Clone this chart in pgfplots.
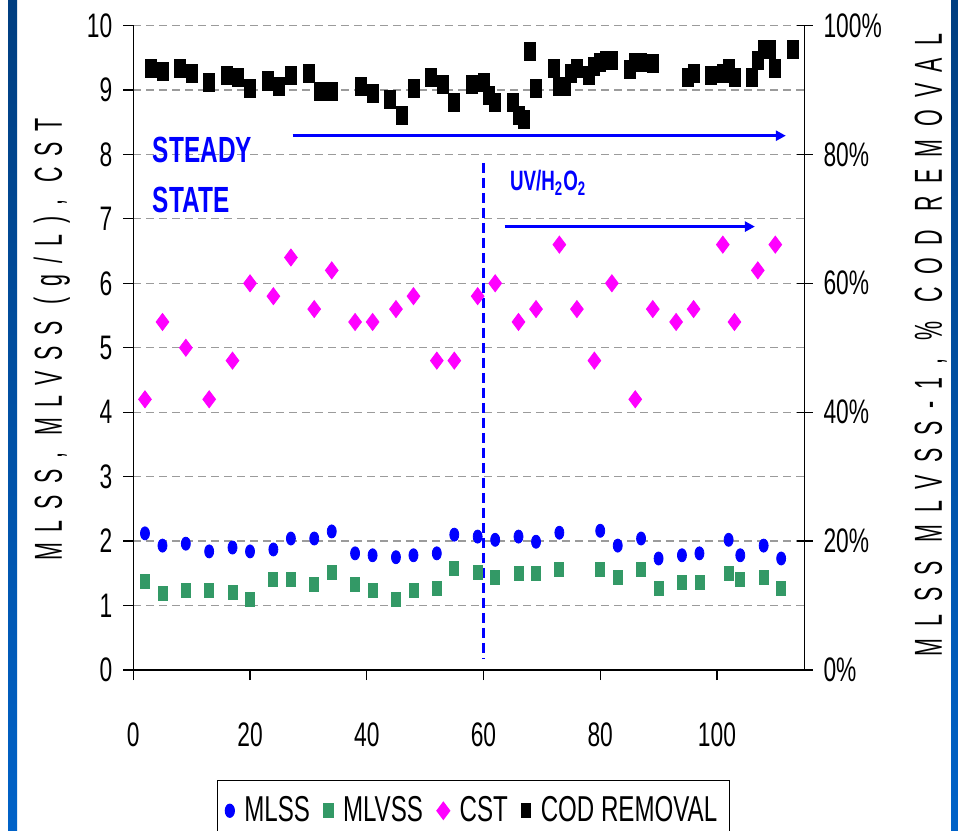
\documentclass[border=0pt]{standalone}
\usepackage{pgfplots}
\pgfplotsset{compat=1.18}
\usetikzlibrary{arrows.meta}
\usepackage{fontspec}
\setmainfont{Liberation Sans}
\newfontfamily\narrowfont[FakeStretch=0.67]{Liberation Sans}
\newfontfamily\labfontL[FakeStretch=0.55,LetterSpace=28]{Liberation Sans}
\newfontfamily\labfontR[FakeStretch=0.55,LetterSpace=32]{Liberation Sans}
\definecolor{vssgreen}{RGB}{51,153,102}
\definecolor{cstmag}{RGB}{255,0,255}
\definecolor{framedark}{RGB}{0,62,128}
\definecolor{framelight}{RGB}{0,98,200}
\definecolor{gridgray}{RGB}{155,155,155}

\pgfplotstableread{
x y
2 2.12
5 1.93
9 1.96
13 1.84
17 1.90
20 1.84
24 1.87
27 2.04
31 2.04
34 2.15
38 1.81
41 1.78
45 1.75
48 1.78
52 1.81
55 2.10
59 2.07
62 2.02
66 2.07
69 1.99
73 2.13
80 2.16
83 1.93
87 2.04
90 1.73
94 1.78
97 1.81
102 2.02
104 1.78
108 1.93
111 1.73
}\mlss

\pgfplotstableread{
x y
2 1.38
5 1.19
9 1.24
13 1.24
17 1.21
20 1.09
24 1.41
27 1.41
31 1.33
34 1.52
38 1.33
41 1.24
45 1.09
48 1.24
52 1.26
55 1.58
59 1.52
62 1.44
66 1.50
69 1.50
73 1.56
80 1.56
83 1.44
87 1.56
90 1.27
94 1.36
97 1.36
102 1.50
104 1.41
108 1.44
111 1.27
}\mlvss

\pgfplotstableread{
x y
2 4.2
5 5.4
9 5.0
13 4.2
17 4.8
20 6.0
24 5.8
27 6.4
31 5.6
34 6.2
38 5.4
41 5.4
45 5.6
48 5.8
52 4.8
55 4.8
59 5.8
62 6.0
66 5.4
69 5.6
73 6.6
76 5.6
79 4.8
82 6.0
86 4.2
89 5.6
93 5.4
96 5.6
101 6.6
103 5.4
107 6.2
110 6.6
}\cst

\pgfplotstableread{
x y
3 93.4
5 92.9
8 93.4
10 92.6
13 91.2
16 92.3
18 92.0
20 90.3
23 91.4
25 90.6
27 92.3
30 92.6
32 89.7
34 89.7
39 90.6
41 89.4
44 88.6
46 86.0
48 90.3
51 92.0
53 90.8
55 88.0
58 90.9
60 91.2
61 89.1
62 88.0
65 88.0
66 86.0
67 85.5
68 96.0
69 90.3
72 93.4
73 90.6
74 90.6
75 92.6
76 93.4
78 92.3
79 93.7
80 94.3
81 94.6
82 94.6
85 93.2
86 94.3
87 94.3
89 94.1
95 92.0
96 92.6
99 92.3
101 92.6
102 93.4
103 92.0
106 92.0
107 94.6
108 96.3
109 96.3
110 93.4
113 96.3
}\cod

\begin{document}
\begin{tikzpicture}
\path[use as bounding box] (0pt,0pt) rectangle (479pt,415pt);
\shade[top color=framedark, bottom color=framelight] (4pt,0pt) rectangle (8.5pt,415pt);
\shade[top color=framedark, bottom color=framelight] (475.5pt,0pt) rectangle (479pt,415pt);

\begin{axis}[
  at={(66.65pt,80pt)}, anchor=south west,
  scale only axis, width=335.6pt, height=322.25pt,
  xmin=0, xmax=115, ymin=0, ymax=10,
  axis x line*=bottom, axis y line*=left,
  axis line style={black, line width=0.6pt},
  xtick={0,20,40,60,80,100}, ytick={0,1,...,10},
  tick align=outside, major tick length=5pt,
  tick style={black, line width=0.6pt},
  ymajorgrids,
  grid style={gridgray, line width=0.6pt, dash pattern=on 4pt off 2.5pt},
  tick label style={font=\narrowfont\fontsize{17}{20}\selectfont},
  /pgf/number format/assume math mode=true,
  xticklabel style={yshift=-18pt},
  yticklabel style={xshift=-2pt},
  ylabel={MLSS, MLVSS (g/L), CST},
  ylabel style={font=\labfontL\fontsize{19.5}{22}\selectfont, at={(axis description cs:-0.1215,0.513)}, anchor=center, rotate=0},
  clip=false,
  legend columns=4,
  legend style={at={(axis description cs:0.1243,-0.1708)}, anchor=north west,
    draw=black, line width=0.6pt, font=\narrowfont\fontsize{18}{22}\selectfont,
    inner xsep=4pt, inner ysep=6pt,
    /tikz/every odd column/.append style={column sep=3pt},
    /tikz/every even column/.append style={column sep=5pt}},
  legend cell align=left,
]
\addplot[only marks, mark=*, color=blue, mark size=2.25pt, mark options={yscale=1.45}] table[x=x,y=y] {\mlss};
\addlegendentry{MLSS}
\addplot[only marks, mark=square*, color=vssgreen, mark size=2.25pt, mark options={yscale=1.55}] table[x=x,y=y] {\mlvss};
\addlegendentry{MLVSS}
\addplot[only marks, mark=diamond*, color=cstmag, mark size=4.25pt] table[x=x,y=y] {\cst};
\addlegendentry{CST}
\addlegendimage{only marks, mark=square*, color=black, mark size=2.2pt, mark options={yscale=1.6}}
\addlegendentry{COD REMOVAL}

\draw[blue, line width=1.5pt, dash pattern=on 5pt off 2.5pt] (axis cs:60,7.87) -- (axis cs:60,0.17);
\draw[blue, line width=1.5pt, -{Triangle[length=5pt,width=5pt]}] (axis cs:27.3,8.29) -- (axis cs:111.8,8.29);
\draw[blue, line width=1.5pt, -{Triangle[length=5pt,width=5pt]}] (axis cs:63.6,6.88) -- (axis cs:106.5,6.88);
\node[anchor=west, inner sep=0pt, text=blue, font=\narrowfont\bfseries\fontsize{18.2}{20}\selectfont] at (axis cs:3.3,8.07) {STEADY};
\node[anchor=west, inner sep=0pt, text=blue, font=\narrowfont\bfseries\fontsize{18.2}{20}\selectfont] at (axis cs:3.3,7.30) {STATE};
\node[anchor=west, inner sep=0pt, text=blue, font=\narrowfont\bfseries\fontsize{14}{16}\selectfont] at (axis cs:64.5,7.56) {UV/H\textsubscript{2}O\textsubscript{2}};
\end{axis}

\begin{axis}[
  at={(66.65pt,80pt)}, anchor=south west,
  scale only axis, width=335.6pt, height=322.25pt,
  xmin=0, xmax=115, ymin=0, ymax=100,
  axis x line=none, axis y line*=right,
  axis line style={black, line width=0.6pt},
  ytick={0,20,...,100},
  yticklabel={\pgfmathprintnumber{\tick}\%},
  tick align=center, major tick length=8pt,
  tick style={black, line width=0.6pt},
  tick label style={font=\narrowfont\fontsize{17}{20}\selectfont},
  /pgf/number format/assume math mode=true,
  yticklabel style={xshift=2pt},
  ylabel={MLSS MLVSS-1, \% COD REMOVAL},
  ylabel style={font=\labfontR\fontsize{19.5}{22}\selectfont, at={(axis description cs:1.188,0.504)}, anchor=center, rotate=0},
  clip=false,
]
\addplot[only marks, mark=square*, color=black, mark size=2.75pt, mark options={yscale=1.64}] table[x=x,y=y] {\cod};
\end{axis}
\end{tikzpicture}
\end{document}
